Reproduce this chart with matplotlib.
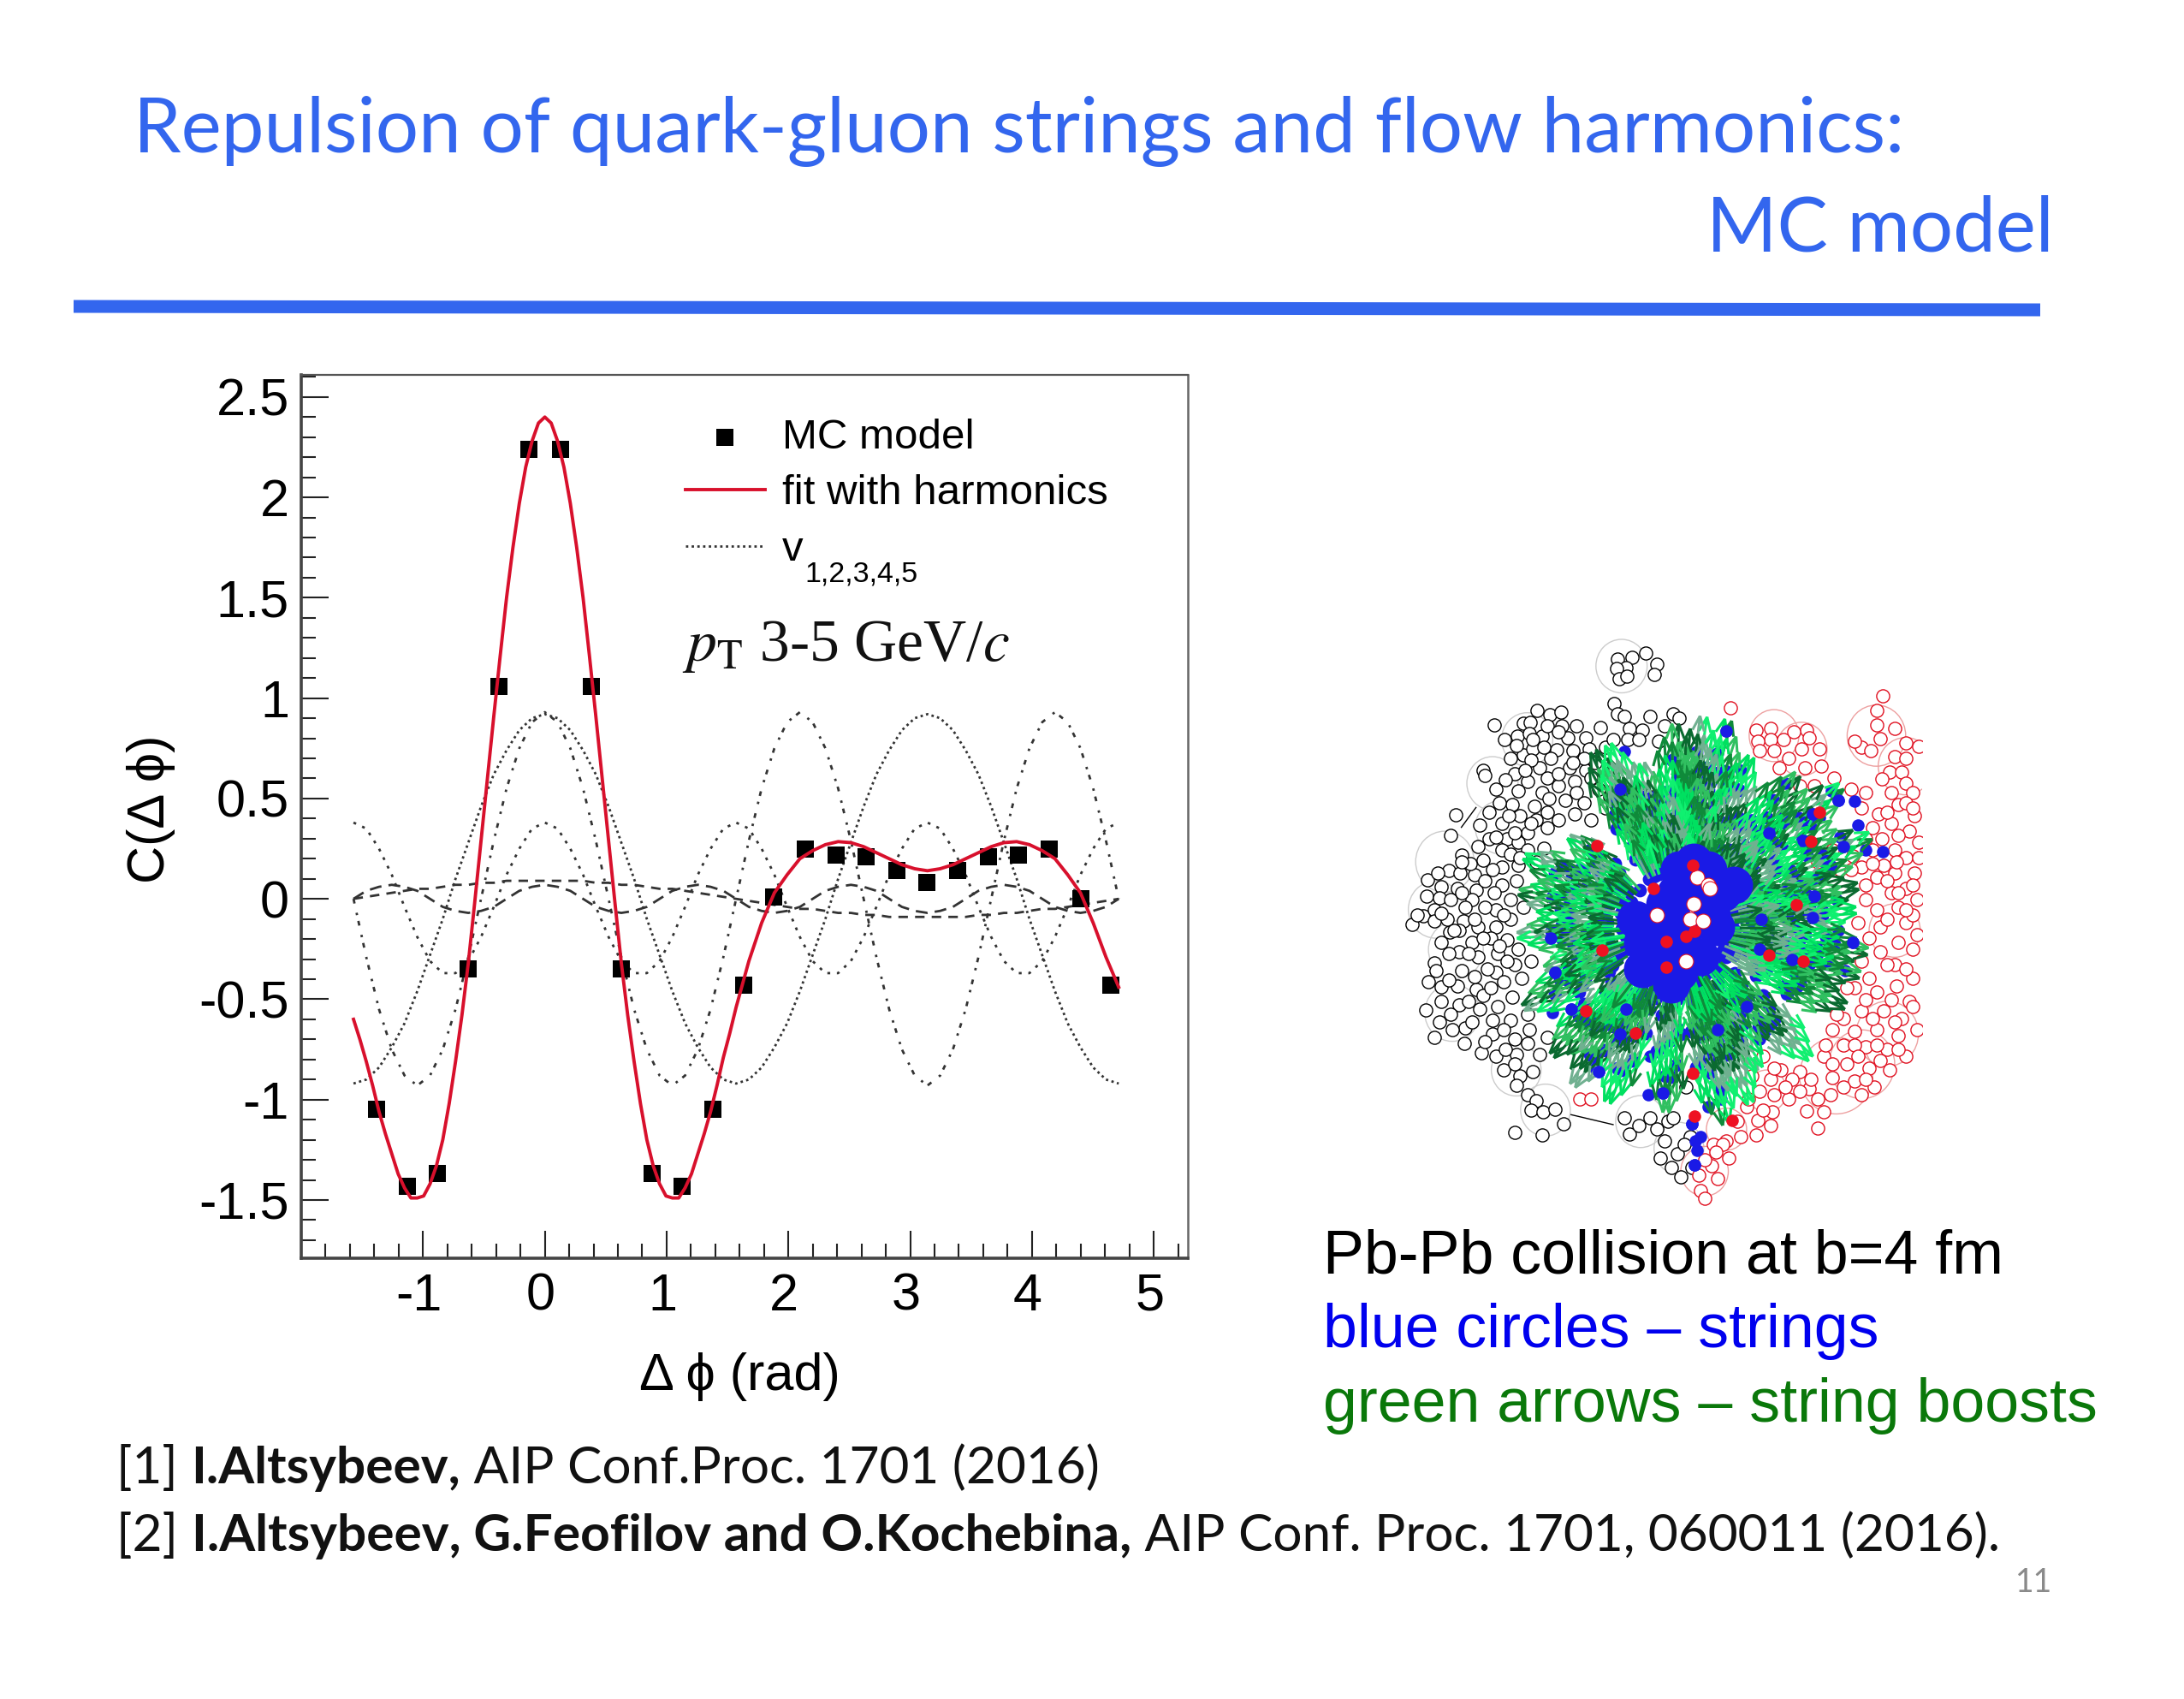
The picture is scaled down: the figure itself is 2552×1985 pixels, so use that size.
import numpy as np
import matplotlib
matplotlib.use('Agg')
import matplotlib.pyplot as plt
from matplotlib.collections import LineCollection
from matplotlib.patches import Circle
from matplotlib.ticker import MultipleLocator, FuncFormatter
from matplotlib.transforms import ScaledTranslation

plt.rcParams['font.family'] = ['Liberation Sans', 'DejaVu Sans']
plt.rcParams['mathtext.fontset'] = 'stix'
plt.rcParams['axes.unicode_minus'] = False

W, H = 2552, 1985

# MC points
mc_x = [-1.38, -1.13, -0.88, -0.63, -0.38, -0.13, 0.13, 0.38, 0.63, 0.88, 1.13, 1.38, 1.63,
        1.88, 2.14, 2.39, 2.64, 2.89, 3.14, 3.39, 3.64, 3.89, 4.14, 4.40, 4.65]
mc_y = [-1.05, -1.43, -1.37, -0.35, 1.06, 2.24, 2.24, 1.06, -0.35, -1.37, -1.43, -1.05, -0.43,
        0.01, 0.25, 0.22, 0.21, 0.14, 0.08, 0.14, 0.21, 0.22, 0.25, 0.00, -0.43]

# red fit read every 3 degrees up to 90, every 6 after
fit_deg = np.concatenate([np.arange(-90, 91, 3), np.arange(96, 271, 6)])
fit = [-.60, -.70, -.81, -.93, -1.06, -1.17, -1.27, -1.37, -1.44, -1.49, -1.49, -1.48, -1.42, -1.33, -1.20,
       -1.02, -.81, -.58, -.32, -.02, .29, .60, .91, 1.21, 1.50, 1.75, 1.97, 2.15, 2.28, 2.37,
       2.40,
       2.37, 2.28, 2.15, 1.97, 1.75, 1.50, 1.21, .91, .60, .29, -.02, -.32, -.58, -.81, -1.02,
       -1.20, -1.33, -1.42, -1.48, -1.49, -1.49, -1.44, -1.37, -1.27, -1.17, -1.06, -.93, -.79, -.67, -.54,
       -.31, -.12, .03, .12, .20, .24, .27, .285, .28, .26, .23, .20, .17, .15, .14,
       .15, .17, .20, .23, .26, .28, .285, .27, .24, .20, .12, .03, -.12, -.29, -.44]

# harmonics read every 6 degrees from -90 to 270
phi_deg = np.arange(-90, 271, 6)
v1 = [0, .01, .02, .03, .04, .05, .05, .06, .07, .07, .08, .08, .09, .09, .09,
      .09,
      .09, .09, .09, .08, .08, .07, .07, .06, .05, .05, .04, .03, .02, .01, 0,
      -.01, -.02, -.03, -.04, -.05, -.05, -.06, -.07, -.07, -.08, -.08, -.09, -.09, -.09, -.09,
      -.09, -.09, -.09, -.08, -.08, -.07, -.07, -.06, -.05, -.05, -.04, -.03, -.02, -.01, 0]
v2 = [-.92, -.90, -.84, -.74, -.62, -.46, -.28, -.10, .10, .28, .46, .62, .74, .84, .90,
      .92,
      .90, .84, .74, .62, .46, .28, .10, -.10, -.28, -.46, -.62, -.74, -.84, -.90, -.92,
      -.90, -.84, -.74, -.62, -.46, -.28, -.10, .10, .28, .46, .62, .74, .84, .90, .92,
      .90, .84, .74, .62, .46, .28, .10, -.10, -.28, -.46, -.62, -.74, -.84, -.90, -.92]
v3 = [0, -.29, -.55, -.75, -.88, -.93, -.88, -.75, -.55, -.29, 0, .29, .55, .75, .88,
      .93,
      .88, .75, .55, .29, 0, -.29, -.55, -.75, -.88, -.93, -.88, -.75, -.55, -.29, 0,
      .29, .55, .75, .88, .93, .88, .75, .55, .29, 0, -.29, -.55, -.75, -.88, -.93,
      -.88, -.75, -.55, -.29, 0, .29, .55, .75, .88, .93, .88, .75, .55, .29, 0]
v4 = [.38, .35, .25, .12, -.04, -.19, -.31, -.37, -.37, -.31, -.19, -.04, .12, .25, .35,
      .38,
      .35, .25, .12, -.04, -.19, -.31, -.37, -.37, -.31, -.19, -.04, .12, .25, .35, .38,
      .35, .25, .12, -.04, -.19, -.31, -.37, -.37, -.31, -.19, -.04, .12, .25, .35, .38,
      .35, .25, .12, -.04, -.19, -.31, -.37, -.37, -.31, -.19, -.04, .12, .25, .35, .38]
v5 = [0, .04, .06, .07, .06, .04, 0, -.04, -.06, -.07, -.06, -.04, 0, .04, .06,
      .07,
      .06, .04, 0, -.04, -.06, -.07, -.06, -.04, 0, .04, .06, .07, .06, .04, 0,
      -.04, -.06, -.07, -.06, -.04, 0, .04, .06, .07, .06, .04, 0, -.04, -.06, -.07,
      -.06, -.04, 0, .04, .06, .07, .06, .04, 0, -.04, -.06, -.07, -.06, -.04, 0]

# event display, positions
black_x = [632, 672, 710, 740, 655, 630, 732, 636, 658, 623, 632, 295, 412, 448, 477, 375, 392, 480, 520, 585, 665, 700, 760, 785, 800,
           322, 358, 390, 425, 465, 495, 510, 545, 555, 745, 660, 690, 375, 355, 400, 545, 600, 265, 270, 350, 420, 325, 385, 440, 515,
           560, 300, 360, 425, 470, 520, 580, 345, 405, 445, 540, 600, 730, 190, 365, 410, 470, 515, 560, 315, 330, 385, 440, 175, 280,
           360, 250, 207, 265, 315, 385, 430, 170, 202, 240, 315, 360, 112, 150, 195, 245, 315, 355, 110, 145, 235, 300, 340, 100, 130,
           70, 130, 210, 250, 300, 340, 173, 235, 285, 330, 200, 130, 170, 250, 305, 360, 135, 205, 300, 350, 395, 150, 195, 245, 320,
           370, 150, 200, 265, 305, 345, 108, 175, 215, 255, 340, 385, 130, 212, 290, 350, 260, 300, 355, 420, 320, 365, 355, 385, 410,
           395, 428, 460, 485, 425, 350, 665, 690, 770, 785, 760, 795, 780, 805, 830, 650, 820,
           440, 400, 340, 450, 500, 395, 470, 570, 620, 610, 490, 440, 335, 280, 395, 350, 300, 230, 290, 340, 410, 365, 205, 140, 270,
           295, 175, 215, 270, 320, 375, 85, 165, 200, 265, 310, 150, 225, 275, 240, 330, 170, 115, 285, 225, 290, 235, 145, 180, 320,
           390, 270, 325, 385, 440, 400, 350, 740, 720, 815, 750, 835, 620, 720, 650, 540, 510, 470, 430, 380, 310, 255, 205, 240, 150, 185]
black_y = [90, 85, 75, 103, 112, 115, 130, 140, 135, 205, 233, 262, 225, 235, 228, 258, 255, 265, 265, 268, 270, 275, 265, 232, 245,
           300, 292, 285, 292, 328, 295, 330, 295, 325, 305, 300, 300, 340, 315, 325, 380, 320, 380, 395, 390, 375, 405, 410, 400, 410,
           400, 430, 435, 440, 420, 440, 430, 470, 475, 455, 465, 480, 450, 497, 500, 510, 510, 495, 510, 520, 560, 545, 530, 552, 560,
           570, 580, 602, 615, 590, 590, 585, 642, 650, 655, 635, 630, 668, 685, 690, 695, 680, 670, 710, 715, 720, 745, 720, 762, 745,
           785, 775, 775, 790, 790, 770, 805, 830, 820, 825, 855, 885, 860, 870, 860, 850, 905, 905, 910, 890, 880, 948, 945, 955, 935,
           925, 985, 995, 970, 1000, 975, 1007, 1020, 1055, 1005, 1035, 1020, 1080, 1095, 1070, 1085, 1120, 1130, 1125, 1125, 1165, 1180, 1205, 1230, 1245,
           1270, 1275, 1268, 1305, 1335, 1328, 1332, 1310, 1300, 1290, 1350, 1385, 1420, 1445, 1340, 1290, 1210,
           265, 300, 350, 350, 375, 355, 390, 360, 400, 450, 460, 490, 500, 490, 520, 545, 555, 625, 640, 600, 620, 610, 620, 650, 670,
           700, 720, 740, 740, 760, 740, 760, 770, 800, 820, 840, 830, 860, 900, 920, 880, 930, 935, 950, 985, 1035, 1040, 1040, 1060, 1060,
           1060, 1090, 1110, 1095, 1080, 1170, 1150, 1320, 1290, 1360, 1395, 1420, 300, 240, 240, 350, 360, 280, 320, 380, 465, 525, 700, 770, 755, 800]
red_x = [940, 1357, 1340, 1340, 1390, 1350, 1300, 1280, 1325, 1420, 1455, 1390, 1420, 1375, 1410, 1355, 1420, 1010, 1050, 1050, 1015, 1150, 1155,
         1135, 1185, 1100, 1075, 1145, 1170, 1130, 1440, 1310, 1345, 1400, 1445, 1330, 1380, 1430, 1455, 1220, 1275, 1330, 1390, 1180, 1240, 1300,
         1360, 1420, 1445, 1390, 1340, 1420, 1380, 1450, 1340, 1400, 1350, 1420, 1450, 1350, 1390, 1440, 1320, 1280, 1340, 1395, 1430, 1300, 1360,
         1250, 1410, 1450, 1220, 1280, 1340, 1400, 1250, 1310, 1370, 1420, 1195, 1260, 1320, 1375, 1130, 1080, 1030, 1220, 1280, 1335, 1050, 1000,
         1155, 1215, 1300, 1060, 1020, 1150, 1195, 1180, 1055, 1015, 985, 1010, 970, 930, 895, 890, 905, 855, 860, 870, 530, 560,
         1020, 1085, 1115, 1060, 1190, 1225, 1270, 1380, 1420, 1300, 1370, 1440, 1355, 1400, 1310, 1455, 1270, 1330, 1395, 1310, 1370, 1440, 1310,
         1400, 1440, 1290, 1370, 1420, 1320, 1400, 1440, 1300, 1370, 1420, 1260, 1310, 1380, 1440, 1230, 1330, 1390, 1200, 1280, 1340, 1400, 1160,
         1220, 1290, 1350, 1110, 1060, 1180, 1250, 1310, 1100, 1090, 1130, 1030, 990, 960, 1050, 920, 935, 870, 900]
red_y = [217, 185, 225, 262, 270, 297, 320, 305, 330, 310, 318, 345, 350, 385, 385, 403, 415, 275, 270, 300, 305, 275, 295,
         325, 325, 350, 375, 375, 420, 420, 440, 440, 495, 470, 500, 530, 520, 540, 570, 590, 605, 590, 590, 620, 640, 635,
         630, 610, 650, 650, 660, 690, 700, 720, 745, 740, 790, 780, 810, 855, 890, 925, 925, 950, 960, 945, 985, 1010, 1010,
         1030, 1030, 1060, 1060, 1065, 1060, 1075, 1100, 1105, 1110, 1130, 1130, 1150, 1160, 1165, 1170, 1165, 1130, 1185, 1195, 1210, 1190, 1180,
         1215, 1230, 1230, 1230, 1220, 1272, 1275, 1318, 1275, 1298, 1260, 1335, 1340, 1350, 1360, 1415, 1450, 1440, 1480, 1500, 1240, 1240,
         330, 300, 280, 330, 370, 400, 430, 440, 465, 480, 490, 480, 560, 550, 560, 610, 640, 625, 620, 680, 670, 680, 720,
         700, 760, 780, 770, 745, 820, 830, 850, 880, 890, 900, 950, 980, 980, 1000, 1020, 1030, 1040, 1100, 1100, 1100, 1110, 1190,
         1150, 1130, 1140, 1190, 1160, 1240, 1210, 1190, 1240, 1210, 1220, 1270, 1240, 1300, 1310, 1360, 1395, 1400, 1380]
ring_black_x = [643, 385, 290, 313, 160, 135, 190, 180, 355, 435, 695, 800]
ring_black_y = [108, 300, 415, 530, 620, 745, 850, 1015, 1165, 1270, 1300, 1370]
ring_black_r = [70, 70, 70, 70, 80, 75, 75, 75, 68, 68, 68, 68]
ring_red_x = [1340, 1135, 1060, 1420, 1390, 1370, 1230, 1040, 870, 930, 1300]
ring_red_y = [290, 325, 290, 370, 800, 1070, 1180, 1220, 1430, 1320, 1150]
ring_red_r = [80, 70, 68, 75, 70, 85, 100, 55, 65, 55, 90]
core_x = [790, 730, 760, 860, 890, 880, 920, 800, 700, 830, 780, 810, 760, 900, 840, 730, 680, 950, 780, 700, 800]
core_y = [700, 780, 860, 870, 760, 640, 700, 910, 830, 690, 760, 810, 730, 790, 620, 880, 770, 680, 940, 900, 640]
blue_x = [930, 650, 1217, 1235, 1280, 1185, 1165, 1290, 1240, 1250, 1310, 1358, 1140, 1090, 1000, 1045, 970, 640, 640, 725, 555, 845, 1165, 1145, 1165,
          1190, 1045, 1025, 1235, 1200, 1275, 945, 995, 1020, 1160, 1180, 1110, 1255, 965, 985, 1040, 1020, 905, 900, 455, 505, 530, 540, 655, 690,
          720, 640, 680, 570, 580, 720, 715, 755, 880, 915, 835, 860, 850, 843, 845, 470, 460, 480, 540, 450, 1040, 1100, 1170, 1230]
blue_y = [277, 332, 435, 460, 462, 505, 495, 525, 555, 580, 590, 594, 565, 415, 510, 545, 380, 445, 430, 490, 590, 590, 665, 680, 765,
          765, 795, 770, 800, 815, 830, 830, 822, 850, 850, 860, 875, 905, 1040, 1000, 1060, 1085, 1060, 1075, 1015, 1005, 1010, 1040, 1005, 1010,
          1005, 1070, 1075, 1160, 1170, 1130, 1230, 1225, 1262, 1240, 1305, 1340, 1375, 1413, 1350, 800, 910, 630, 650, 820, 700, 700, 710, 720]
hole_x = [850, 880, 840, 830, 885, 740, 820, 865]
hole_y = [660, 680, 730, 770, 690, 760, 880, 775]
hit_x = [575, 730, 837, 842, 820, 765, 765, 590, 1160, 1120, 1185, 545, 680, 843, 945, 838, 1140, 1045]
hit_y = [578, 690, 630, 802, 815, 828, 897, 852, 567, 733, 490, 1010, 1068, 1285, 1297, 1173, 880, 865]
spike_angle = [82, 90, 75, 65, 50, 39, 24, 12, 5, -7, -14, -24, -43, -58, -66, -75, -93, -112, -124, -135, -153, -163, -177, 168, 156, 141, 116, 111, 102]
spike_radius = [570, 545, 575, 505, 535, 600, 600, 525, 510, 545, 535, 525, 520, 450, 520, 550, 500, 510, 515, 490, 480, 385, 445, 450, 465, 385, 525, 525, 450]
greens = ['#00e060', '#0f8a3a', '#30c060', '#0a6a30', '#70b090', '#10f070']

fig = plt.figure(figsize=(W / 100, H / 100), dpi=100, facecolor='white')


def px_axes(x0, y0, x1, y1):
    return fig.add_axes([x0 / W, 1 - y1 / H, (x1 - x0) / W, (y1 - y0) / H])


# slide background texts
page = px_axes(0, 0, W, H)
page.set_xlim(0, W)
page.set_ylim(H, 0)
page.axis('off')
title_blue = '#3366ee'
page.text(156, 178, 'Repulsion of quark-gluon strings and flow harmonics:', color=title_blue,
          family='Lato', fontsize=64)
page.text(2400, 293, 'MC model', color=title_blue, family='Lato', fontsize=64, ha='right')
page.plot([86, 2384], [358, 362], color=title_blue, lw=10.8, solid_capstyle='butt')
page.text(1546, 1488, 'Pb-Pb collision at b=4 fm', color='black', fontsize=51.7)
page.text(1546, 1574, 'blue circles – strings', color='#0000ee', fontsize=51.7)
page.text(1546, 1661, 'green arrows – string boosts', color='#0a780a', fontsize=51.7)
page.text(2398, 1860, '11', color='#8a8a8a', family='Lato', fontsize=27, ha='right')


def mixed_line(x, y, parts, size):
    r = fig.canvas.get_renderer()
    for s, w in parts:
        t = page.text(x, y, s, color='#111111', family='Lato', fontsize=size, weight=w)
        x = page.transData.inverted().transform(t.get_window_extent(r).corners()[2])[0]


mixed_line(136, 1733, [('[1] ', 'normal'), ('I.Altsybeev,', 'bold'), (' AIP Conf.Proc. 1701 (2016)', 'normal')], 43.5)
mixed_line(136, 1812, [('[2] ', 'normal'), ('I.Altsybeev, G.Feofilov and O.Kochebina,', 'bold'),
                       (' AIP Conf. Proc. 1701, 060011 (2016).', 'normal')], 43.5)

# correlation plot
ax = px_axes(352, 438, 1388, 1470)
phi = np.radians(phi_deg)
ax.plot(phi, v1, color='#333333', lw=2, ls=(0, (4, 3)), label='_')
ax.plot(phi, v2, color='#333333', lw=2, ls=(0, (1, 1.4)), label='v')
ax.plot(phi, v3, color='#333333', lw=2, ls=(0, (2, 4, 1, 2.5)), label='_')
ax.plot(phi, v4, color='#333333', lw=2, ls=(0, (1.2, 2.8)), label='_')
ax.plot(phi, v5, color='#333333', lw=2, ls=(0, (5, 3)), label='_')
ax.scatter(mc_x, mc_y, marker='s', s=200, color='black', linewidths=0, zorder=3, label='MC model')
ax.plot(np.radians(fit_deg), fit, color='#d8102c', lw=2.8, zorder=4, label='fit with harmonics')
ax.set_xlim(-2.0, 5.28)
ax.set_ylim(-1.79, 2.61)
ax.xaxis.set_major_locator(MultipleLocator(1))
ax.xaxis.set_minor_locator(MultipleLocator(0.2))
ax.yaxis.set_major_locator(MultipleLocator(0.5))
ax.yaxis.set_minor_locator(MultipleLocator(0.1))
ax.xaxis.set_major_formatter(FuncFormatter(lambda v, p: '' if v < -1.5 else '%g' % v))
ax.yaxis.set_major_formatter(FuncFormatter(lambda v, p: '%g' % (round(v, 1) + 0.0)))
ax.tick_params(which='major', direction='in', length=23, width=1.5, labelsize=44, color='#222222')
ax.tick_params(which='minor', direction='in', length=12, width=1.5, color='#222222')
ax.tick_params(axis='x', pad=12)
ax.tick_params(axis='y', pad=10)
# x labels sit a little left of their ticks in the original
for lab in ax.get_xticklabels():
    lab.set_transform(lab.get_transform() + ScaledTranslation(-0.05, 0, fig.dpi_scale_trans))
for side, w, c in [('left', 2.6, '#444444'), ('bottom', 2.6, '#444444'), ('top', 1.6, '#555555'), ('right', 1.8, '#666666')]:
    ax.spines[side].set_linewidth(w)
    ax.spines[side].set_color(c)
ax.set_xlabel('Δ ϕ (rad)', fontsize=44, labelpad=26, x=0.495)
ax.set_ylabel('C(Δ ϕ)', fontsize=44, labelpad=20, y=0.508)
h, l = ax.get_legend_handles_labels()
order = [l.index('MC model'), l.index('fit with harmonics'), l.index('v')]
ax.legend([h[i] for i in order], [l[i] for i in order], frameon=False, loc='upper left', bbox_to_anchor=(0.414, 0.97),
          fontsize=35.5, handlelength=1.9, labelspacing=0.42, handletextpad=0.4, borderaxespad=0)
ax.text(0.568, 0.774, '1,2,3,4,5', transform=ax.transAxes, fontsize=24.5, va='center')
ax.text(0.43, 0.676, '$p_{\\mathrm{T}}$ 3-5 GeV/$c$', transform=ax.transAxes, fontsize=50,
        family='Liberation Serif', color='#111111')

# event display
ev = px_axes(1620, 730, 2246, 1430)
ev.set_xlim(0, 1465)
ev.set_ylim(1568, 0)
ev.axis('off')
for x, y, r in zip(ring_black_x, ring_black_y, ring_black_r):
    ev.add_patch(Circle((x, y), r, fill=False, ec='#cccccc', lw=1.0))
for x, y, r in zip(ring_red_x, ring_red_y, ring_red_r):
    ev.add_patch(Circle((x, y), r, fill=False, ec='#eda0a0', lw=1.0))
ev.plot([205, 245], [530, 478], color='black', lw=1.0)
ev.plot([505, 620], [1282, 1308], color='black', lw=1.0)
ev.scatter(black_x, black_y, s=120, facecolors='white', edgecolors='black', linewidths=1.0, zorder=2)
ev.scatter(red_x, red_y, s=120, facecolors='white', edgecolors='#e01020', linewidths=1.0, zorder=2)

# arrows fanned along each spike of the star, blue dots at their feet
cx, cy = 790, 790
segs, cols, bx, by = [], [], [], []
n = 0
for a0, r0 in zip(spike_angle, spike_radius):
    for da in (-6, -3.5, -1, 1, 3.5, 6):
        r = r0 * (1 - 0.025 * abs(da))
        while r > 230:
            a = np.radians(a0 + da)
            ux, uy = np.cos(a), -np.sin(a)
            tx, ty = cx + r * ux, cy + r * uy
            sx, sy = tx - 95 * ux, ty - 95 * uy
            segs.append([(sx, sy), (tx, ty)])
            for b in (a + 2.75, a - 2.75):
                segs.append([(tx, ty), (tx + 42 * np.cos(b), ty - 42 * np.sin(b))])
            cols += [greens[n % 6]] * 3
            if n % 2 == 0:
                bx.append(sx)
                by.append(sy)
            n += 5
            r -= 48
ev.scatter(blue_x, blue_y, s=110, color='#1a1ae6', linewidths=0, zorder=3)
ev.scatter(bx, by, s=130, color='#1a1ae6', linewidths=0, zorder=3)
ev.add_collection(LineCollection(segs, colors=cols, linewidths=2.2, zorder=4))
ev.scatter(blue_x[::3], blue_y[::3], s=110, color='#1a1ae6', linewidths=0, zorder=4.5)
ev.scatter(core_x, core_y, s=1000, color='#1a1ae6', linewidths=0, zorder=5)
ev.scatter(hole_x, hole_y, s=150, facecolors='white', edgecolors='#e01020', linewidths=0.8, zorder=6)
ev.scatter(hit_x, hit_y, s=110, color='#ee1122', linewidths=0, zorder=6)

fig.savefig('out.png', dpi=100)
